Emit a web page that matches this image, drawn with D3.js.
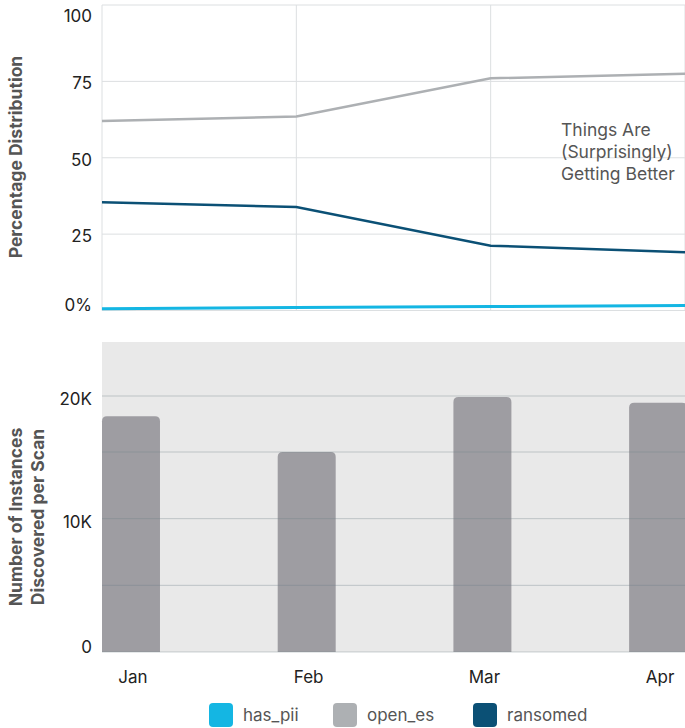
<!DOCTYPE html>
<html>
<head>
<meta charset="utf-8">
<script src="https://cdn.jsdelivr.net/npm/d3@7"></script>
<style>
  body { margin: 0; background: #fff; }
  text { font-family: Inter, "Noto Sans", sans-serif; }
</style>
</head>
<body>
<div id="chart"></div>
<script>
// data
const months = ["Jan", "Feb", "Mar", "Apr"];
const hasPii = [0.6, 1.0, 1.3, 1.6];
const openEs = [62, 63.5, 76, 77.5];
const ransomed = [35.4, 33.9, 21.2, 19.1];
const instances = [18200, 15000, 19900, 19400];
const pctTicks = [0, 25, 50, 75, 100];
const countTicks = [0, 5000, 10000, 15000, 20000];
const countLabels = [0, 10000, 20000];
const seriesNames = ["has_pii", "open_es", "ransomed"];
const seriesColors = ["#14b6e3", "#adb0b3", "#0b5075"];

var width = 685, height = 728;
const svg = d3.select("#chart").append("svg")
    .attr("width", width)
    .attr("height", height);

const left = 102, right = 685;

// ---------- top: percentage lines ----------
const x = d3.scalePoint().domain(months).range([left, right]);
const y = d3.scaleLinear().domain([0, 100]).range([310.5, 5]);

const topG = svg.append("g");
topG.selectAll("line.h").data(pctTicks).enter().append("line")
    .attr("x1", left).attr("x2", right)
    .attr("y1", d => y(d)).attr("y2", d => y(d))
    .attr("stroke", "#dcdfe1").attr("stroke-width", 1);
topG.selectAll("line.v").data(months).enter().append("line")
    .attr("x1", d => x(d)).attr("x2", d => x(d))
    .attr("y1", y(100)).attr("y2", y(0))
    .attr("stroke", "#dcdfe1").attr("stroke-width", 1);

topG.selectAll("text.tick").data(pctTicks).enter().append("text")
    .attr("x", 92)
    .attr("y", d => Math.max(16, Math.min(305, y(d) + 2)))
    .attr("dy", "0.35em")
    .attr("text-anchor", "end")
    .attr("font-size", 17)
    .attr("fill", "#222")
    .text(d => d === 0 ? "0%" : d);

topG.append("text")
    .attr("transform", "translate(16," + 157 + ") rotate(-90)")
    .attr("text-anchor", "middle")
    .attr("dy", "0.35em")
    .attr("font-size", 17.5)
    .attr("font-weight", "bold")
    .attr("fill", "#555")
    .text("Percentage Distribution");

const line = d3.line().x((d, i) => x(months[i])).y(d => y(d));
[hasPii, openEs, ransomed].forEach(function (vals, k) {
    topG.append("path")
        .datum(vals)
        .attr("d", line)
        .attr("fill", "none")
        .attr("stroke", seriesColors[k])
        .attr("stroke-width", k === 0 ? 3 : 2.5);
});

const note = topG.append("text")
    .attr("x", 561).attr("y", 130)
    .attr("font-size", 17.5)
    .attr("fill", "#555");
["Things Are", "(Surprisingly)", "Getting Better"].forEach(function (s, i) {
    note.append("tspan").attr("x", 561).attr("dy", i === 0 ? "0.35em" : 22).text(s);
});

// ---------- bottom: instance bars ----------
const bx = d3.scaleBand().domain(months).range([left, left + 3 * 175.7 + 58])
    .paddingInner(0.67).paddingOuter(0);
const by = d3.scaleLinear().domain([0, 15000, 20000]).range([652, 452, 396]);

const bot = svg.append("g");
bot.append("rect")
    .attr("x", left).attr("y", 342)
    .attr("width", right - left).attr("height", by(0) - 342)
    .attr("fill", "#e9e9e9");

bot.selectAll("path.bar").data(instances).enter().append("path")
    .attr("d", function (d, i) {
        const x0 = bx(months[i]), w = bx.bandwidth(), y0 = by(d), y1 = by(0), r = 5;
        return "M" + x0 + "," + y1 + "V" + (y0 + r) + "Q" + x0 + "," + y0 + " " + (x0 + r) + "," + y0 +
            "H" + (x0 + w - r) + "Q" + (x0 + w) + "," + y0 + " " + (x0 + w) + "," + (y0 + r) + "V" + y1 + "Z";
    })
    .attr("fill", "#9e9da2");

bot.selectAll("line.h").data(countTicks).enter().append("line")
    .attr("x1", left).attr("x2", right)
    .attr("y1", d => by(d)).attr("y2", d => by(d))
    .attr("stroke", "rgba(110,125,135,0.35)").attr("stroke-width", 1);

bot.selectAll("text.tick").data(countLabels).enter().append("text")
    .attr("x", 92)
    .attr("y", d => Math.min(647, by(d) + 3))
    .attr("dy", "0.35em")
    .attr("text-anchor", "end")
    .attr("font-size", 17)
    .attr("fill", "#222")
    .text(d => d === 0 ? "0" : (d / 1000) + "K");

const ttl = bot.append("text")
    .attr("transform", "translate(16,517) rotate(-90)")
    .attr("text-anchor", "middle")
    .attr("font-size", 17.5)
    .attr("font-weight", "bold")
    .attr("fill", "#555");
ttl.append("tspan").attr("x", 0).attr("dy", "0.35em").text("Number of Instances");
ttl.append("tspan").attr("x", 0).attr("dy", 22).text("Discovered per Scan");

bot.selectAll("text.month").data(months).enter().append("text")
    .attr("x", d => bx(d) + bx.bandwidth() / 2 + 2)
    .attr("y", 677)
    .attr("dy", "0.35em")
    .attr("text-anchor", "middle")
    .attr("font-size", 17)
    .attr("fill", "#222")
    .text(d => d);

// ---------- legend ----------
const legX = [209, 333, 473];
const leg = svg.append("g").selectAll("g").data(seriesNames).enter().append("g")
    .attr("transform", (d, i) => "translate(" + legX[i] + ",703)");
leg.append("rect")
    .attr("width", 24).attr("height", 24).attr("rx", 4)
    .attr("fill", (d, i) => seriesColors[i]);
leg.append("text")
    .attr("x", 34).attr("y", 12).attr("dy", "0.35em")
    .attr("font-size", 17)
    .attr("fill", "#555")
    .text(d => d);
</script>
</body>
</html>
